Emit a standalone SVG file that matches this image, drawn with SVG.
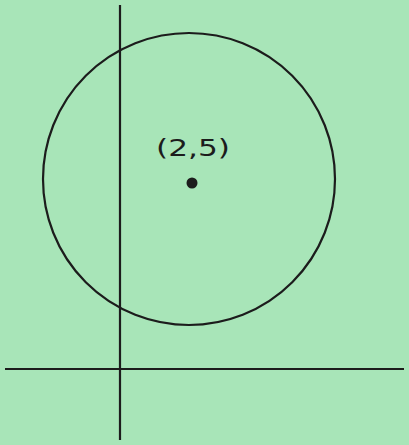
<svg xmlns="http://www.w3.org/2000/svg" width="409" height="445" viewBox="0 0 409 445">
<style>
.ln{stroke:#1c1c1c;stroke-width:2.2;fill:none}
.lbl{font-family:"DejaVu Sans","Liberation Sans",sans-serif;font-size:23px;fill:#1c1c1c}
</style>
<rect width="409" height="445" fill="#a8e5b8"/>
<g id="axes">
<line class="ln" x1="120" y1="5" x2="120" y2="440"/>
<line class="ln" x1="5" y1="369" x2="404" y2="369"/>
</g>
<g id="circle">
<ellipse class="ln" cx="189" cy="179" rx="146" ry="146"/>
</g>
<g id="center">
<circle cx="192" cy="183" r="5.5" fill="#1c1c1c"/>
<text class="lbl" x="156" y="156" textLength="74" lengthAdjust="spacingAndGlyphs">(2,5)</text>
</g>
</svg>
